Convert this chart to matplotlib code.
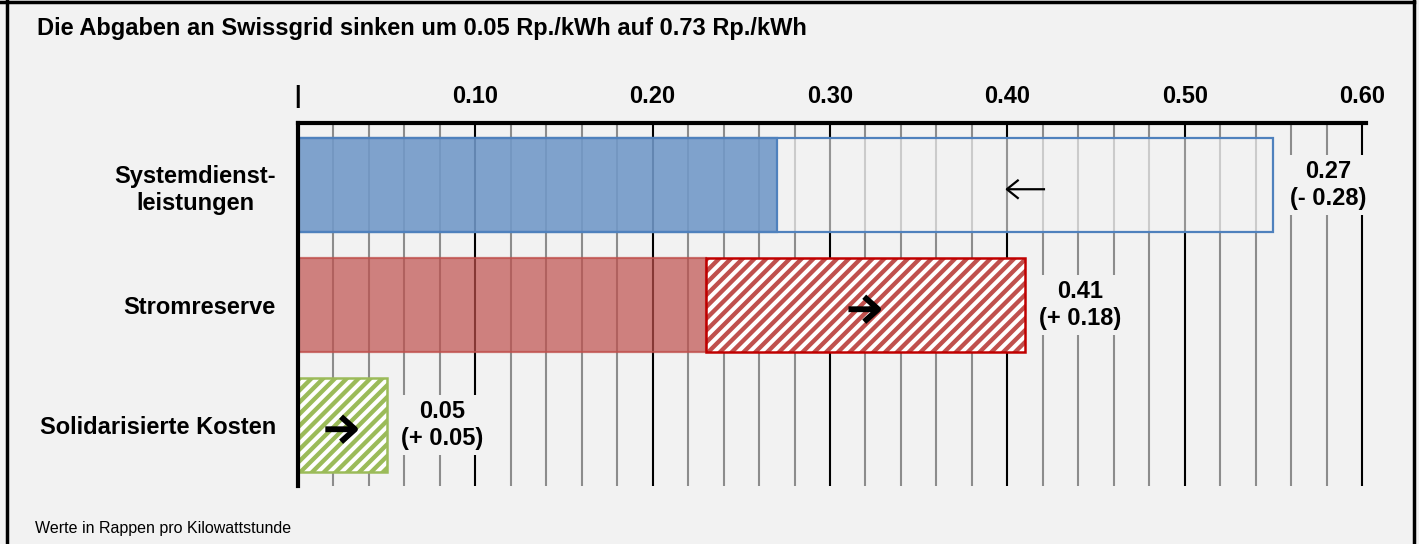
import matplotlib
matplotlib.use('Agg')
import matplotlib.pyplot as plt
from matplotlib.patches import Rectangle, FancyArrowPatch
from matplotlib.collections import LineCollection
from matplotlib.transforms import IdentityTransform
from matplotlib.lines import Line2D
import numpy as np

# ---------------- data ----------------
categories = ['Systemdienst-\nleistungen', 'Stromreserve', 'Solidarisierte Kosten']
previous = [0.55, 0.23, 0.00]
current = [0.27, 0.41, 0.05]
value_labels = ['0.27', '0.41', '0.05']
change_labels = ['(- 0.28)', '(+ 0.18)', '(+ 0.05)']
major_ticks = [0.0, 0.1, 0.2, 0.3, 0.4, 0.5, 0.6]
major_labels = ['|', '0.10', '0.20', '0.30', '0.40', '0.50', '0.60']
minor_ticks = [0.02, 0.04, 0.06, 0.08, 0.12, 0.14, 0.16, 0.18, 0.22, 0.24, 0.26, 0.28,
               0.32, 0.34, 0.36, 0.38, 0.42, 0.44, 0.46, 0.48, 0.52, 0.54, 0.56, 0.58]
title = 'Die Abgaben an Swissgrid sinken um 0.05 Rp./kWh auf 0.73 Rp./kWh'
footnote = 'Werte in Rappen pro Kilowattstunde'

# ---------------- style ----------------
BG = '#f2f2f2'
row_colors = ['#4f81bd', '#c0504d', '#9bbb59']
hatch_edge = ['#4f81bd', '#c00000', '#9bbb59']
FONT = 'Liberation Sans'
plt.rcParams['font.family'] = [FONT, 'DejaVu Sans']

W, H = 1419, 544
DPI = 100
fig = plt.figure(figsize=(W / DPI, H / DPI), dpi=DPI, facecolor=BG)

XMAX = 0.602
ax_left_px, ax_top_px, ax_bot_px = 298, 123, 486
px_per_unit = (1362 - 298) / 0.6
ax_right_px = ax_left_px + XMAX * px_per_unit
ax = fig.add_axes([ax_left_px / W, 1 - ax_bot_px / H,
                   (ax_right_px - ax_left_px) / W, (ax_bot_px - ax_top_px) / H])
ax.set_facecolor(BG)
ax.set_xlim(0, XMAX)
ax.set_ylim(2.508, -0.517)
BAR_H = 0.783

# axis styling
for s in ['bottom', 'right']:
    ax.spines[s].set_visible(False)
for s in ['top', 'left']:
    ax.spines[s].set_linewidth(3)
    ax.spines[s].set_color('black')
    ax.spines[s].set_zorder(10)
ax.xaxis.tick_top()
ax.set_xticks(major_ticks)
ax.set_xticklabels(major_labels, fontsize=17, fontweight='bold')
ax.set_xticks(minor_ticks, minor=True)
ax.tick_params(axis='x', which='both', length=0, pad=11)
ax.set_yticks(range(len(categories)))
ax.set_yticklabels(categories, fontsize=17, fontweight='bold', ha='right',
                   multialignment='center', linespacing=1.27)
ax.tick_params(axis='y', length=0, pad=16)
ax.set_axisbelow(True)
ax.grid(axis='x', which='major', color='black', lw=1.5)
ax.grid(axis='x', which='minor', color='#8c8c8c', lw=1.5)
ax.grid(axis='y', visible=False)


def add_stripes(patch, color, spacing=11.8, lw=3.1, z=3.5):
    bb = patch.get_window_extent()
    x0, y0, x1, y1 = bb.x0, bb.y0, bb.x1, bb.y1
    hgt = y1 - y0
    segs = []
    c = x0 - hgt - spacing
    while c < x1 + spacing:
        segs.append([(c, y0 - 2), (c + hgt + 4, y1 + 2)])
        c += spacing
    lc = LineCollection(segs, colors=color, linewidths=lw, transform=IdentityTransform(),
                        zorder=z)
    ax.add_collection(lc, autolim=False)
    lc.set_clip_path(patch)


def arrow(x_mid, y, direction, bold):
    half_px = 17 if bold else 20
    dx = half_px / px_per_unit
    y_a = y + 0.035
    if bold:
        style = '->,head_length=0.5,head_width=0.45'
        lw, ms = 4.2, 20
    else:
        style = '->,head_length=0.5,head_width=0.4'
        lw, ms = 1.6, 17
    p = FancyArrowPatch((x_mid - direction * dx, y_a), (x_mid + direction * dx, y_a),
                        arrowstyle=style, mutation_scale=ms, lw=lw, color='black',
                        zorder=6, shrinkA=0, shrinkB=0, capstyle='butt')
    ax.add_patch(p)


to_rgba = matplotlib.colors.to_rgba
for i, (prev, curr) in enumerate(zip(previous, current)):
    col = row_colors[i]
    y0 = i - BAR_H / 2
    hi = max(prev, curr)
    if curr < prev:
        ghost = Rectangle((0, y0), prev, BAR_H, facecolor=to_rgba(BG, 0.62),
                          edgecolor=col, lw=1.6, zorder=3)
        ax.add_patch(ghost)
        fill = Rectangle((0, y0), curr, BAR_H, facecolor=to_rgba(col, 0.7),
                         edgecolor=col, lw=1.6, zorder=4)
        ax.add_patch(fill)
        arrow((prev + curr) / 2, i, -1, bold=False)
    else:
        if prev > 0:
            fill = Rectangle((0, y0), prev, BAR_H, facecolor=to_rgba(col, 0.7),
                             edgecolor=to_rgba(col, 0.8), lw=1.6, zorder=4)
            ax.add_patch(fill)
        hbar = Rectangle((prev, y0), curr - prev, BAR_H, facecolor='white',
                         edgecolor='none', lw=0, zorder=3)
        ax.add_patch(hbar)
        add_stripes(hbar, col)
        edge = Rectangle((prev, y0), curr - prev, BAR_H, facecolor='none',
                         edgecolor=hatch_edge[i], lw=1.8, zorder=5)
        ax.add_patch(edge)
        arrow((prev + curr) / 2, i, 1, bold=True)
    ax.annotate(f'{value_labels[i]}\n{change_labels[i]}', xy=(hi, i),
                xytext=(55 * 72 / DPI, 0), textcoords='offset points',
                ha='center', va='center', fontsize=17, fontweight='bold',
                linespacing=1.25, zorder=7,
                bbox=dict(boxstyle='square,pad=0.22', facecolor=BG, edgecolor='none'))

# title and footnote
fig.text(37 / W, 1 - 34.5 / H, title, ha='left', va='baseline', fontsize=17,
         fontweight='bold')
fig.text(35 / W, 1 - 533 / H, footnote, ha='left', va='baseline', fontsize=11.5)

# frame
fig.add_artist(Line2D([6.5 / W, 6.5 / W], [0, 1], transform=fig.transFigure,
                      color='black', lw=2.5))
fig.add_artist(Line2D([1414 / W, 1414 / W], [0, 1], transform=fig.transFigure,
                      color='black', lw=2.5))
fig.add_artist(Line2D([0, 1414 / W], [1 - 1.5 / H, 1 - 1.5 / H], transform=fig.transFigure,
                      color='black', lw=2.5))

fig.savefig('out.png', dpi=DPI, facecolor=BG)
